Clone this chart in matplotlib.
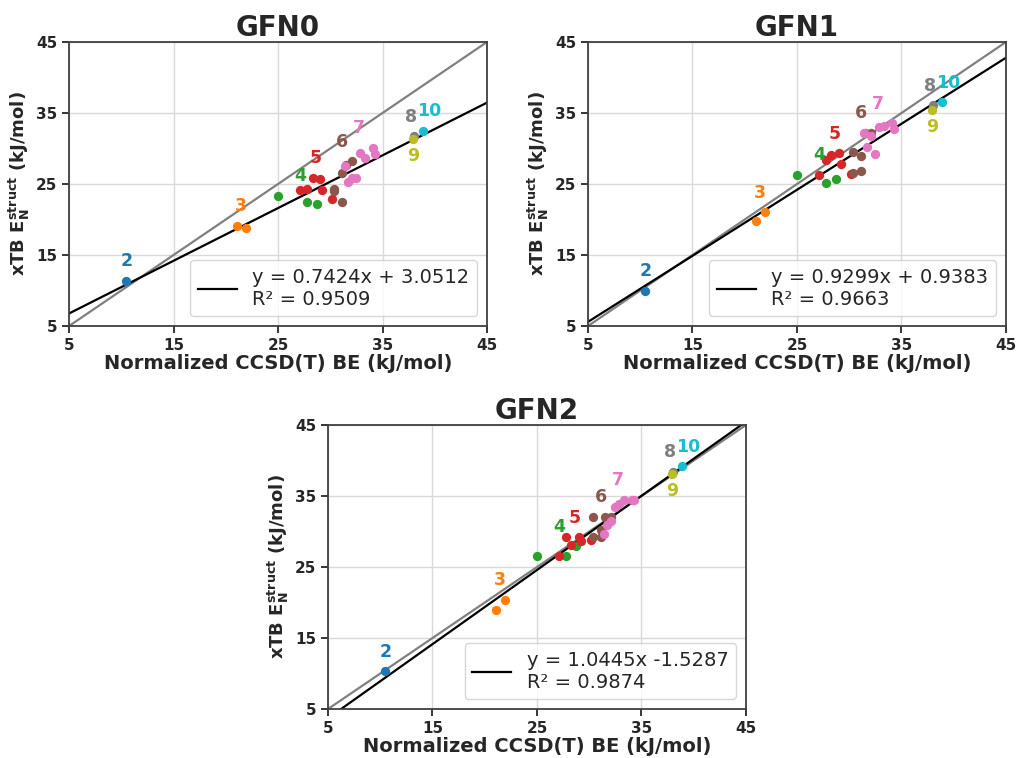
import numpy as np
import matplotlib
matplotlib.use("Agg")
import matplotlib.pyplot as plt

# cluster sizes and their colours
groups = ["2", "3", "4", "5", "6", "7", "8", "9", "10"]
colors = ["#1f77b4", "#ff7f0e", "#2ca02c", "#d62728", "#8c564b",
          "#e377c2", "#7f7f7f", "#bcbd22", "#17becf"]

# normalized CCSD(T) binding energies (kJ/mol)
ccsd = [
    [10.5],
    [21.05, 21.9],
    [25.0, 27.8, 28.7],
    [27.1, 27.75, 28.3, 29.0, 29.25, 30.2],
    [30.35, 30.4, 31.1, 31.15, 31.5, 32.1],
    [31.4, 31.7, 32.05, 32.5, 32.85, 33.3, 34.05, 34.3],
    [38.0],
    [37.95],
    [38.85],
]

# xTB structural energies (kJ/mol)
gfn0 = [
    [11.35],
    [19.1, 18.8],
    [23.35, 22.5, 22.2],
    [24.15, 24.25, 25.9, 25.7, 24.15, 22.9],
    [24.0, 24.3, 26.5, 22.4, 27.7, 28.2],
    [27.5, 25.3, 25.8, 25.9, 29.3, 28.7, 30.1, 29.2],
    [31.75],
    [31.3],
    [32.5],
]
gfn1 = [
    [9.95],
    [19.8, 21.0],
    [26.3, 25.1, 25.75],
    [26.2, 28.4, 29.1, 29.3, 27.8, 26.4],
    [26.5, 29.55, 26.9, 28.9, 32.2, 32.2],
    [32.2, 30.2, 31.7, 29.2, 33.0, 33.1, 33.55, 32.7],
    [36.1],
    [35.4],
    [36.5],
]
gfn2 = [
    [10.35],
    [19.0, 20.4],
    [26.6, 26.6, 27.9],
    [26.5, 29.2, 28.1, 29.2, 28.7, 28.8],
    [29.2, 32.05, 29.2, 30.2, 32.05, 32.0],
    [29.6, 30.9, 31.5, 33.5, 33.9, 34.5, 34.5, 34.5],
    [38.4],
    [38.1],
    [39.2],
]

methods = ["GFN0", "GFN1", "GFN2"]
slopes = [0.7424, 0.9299, 1.0445]
intercepts = [3.0512, 0.9383, -1.5287]
r2s = [0.9509, 0.9663, 0.9874]
ticks = [5, 15, 25, 35, 45]

dark = "#262626"
plt.rcParams["font.family"] = "DejaVu Sans"
plt.rcParams["text.color"] = dark
plt.rcParams["axes.labelcolor"] = dark
plt.rcParams["xtick.color"] = dark
plt.rcParams["ytick.color"] = dark

fig = plt.figure(figsize=(10.18, 7.58), dpi=100)
w, h = 0.4106, 0.3747
axes = [fig.add_axes([0.0678, 0.5699, w, h]),
        fig.add_axes([0.5776, 0.5699, w, h]),
        fig.add_axes([0.3222, 0.0646, w, h])]

# label nudges for the crowded top-right clusters
label_dx = {"8": -0.3, "10": 0.65}

for ax, name, ys, m, b, r2 in zip(axes, methods, [gfn0, gfn1, gfn2],
                                  slopes, intercepts, r2s):
    xl = np.array([5, 45])
    ax.plot(xl, xl, color="gray", lw=1.6, zorder=2)
    ax.plot(xl, m * xl + b, color="black", lw=1.6, zorder=2,
            label=f"y = {m:.4f}x {'+ ' if b >= 0 else ''}{b:.4f}\nR² = {r2:.4f}")

    for g, c, xs, yv in zip(groups, colors, ccsd, ys):
        ax.scatter(xs, yv, s=45, color=c, zorder=3, linewidths=0)
        lx = np.mean(xs) + label_dx.get(g, 0)
        if g == "9":
            ly = min(yv) - 2.4
        else:
            ly = max(yv) + 2.75
        ax.text(lx, ly, g, color=c, fontsize=12.5, fontweight="bold",
                ha="center", va="center", zorder=4)

    ax.set_xlim(5, 45)
    ax.set_ylim(5, 45)
    ax.set_xticks(ticks)
    ax.set_yticks(ticks)
    ax.grid(True, color="#d9d9d9", lw=1)
    ax.set_axisbelow(True)
    for s in ax.spines.values():
        s.set_color("#404040")
        s.set_linewidth(1.3)
    ax.tick_params(direction="out", length=5, width=1.3, labelsize=11)
    for lab in ax.get_xticklabels() + ax.get_yticklabels():
        lab.set_fontweight("bold")

    ax.set_title(name, fontsize=20, fontweight="bold", pad=4)
    ax.set_xlabel("Normalized CCSD(T) BE (kJ/mol)", fontsize=14,
                  fontweight="bold", labelpad=1)
    ax.set_ylabel(r"xTB $\mathbf{E_N^{struct}}$ (kJ/mol)", fontsize=13,
                  fontweight="bold", labelpad=3)
    ax.legend(loc="lower right", fontsize=14, handlelength=2,
              fancybox=True, edgecolor="#cccccc")

fig.savefig("out.png", dpi=100)
